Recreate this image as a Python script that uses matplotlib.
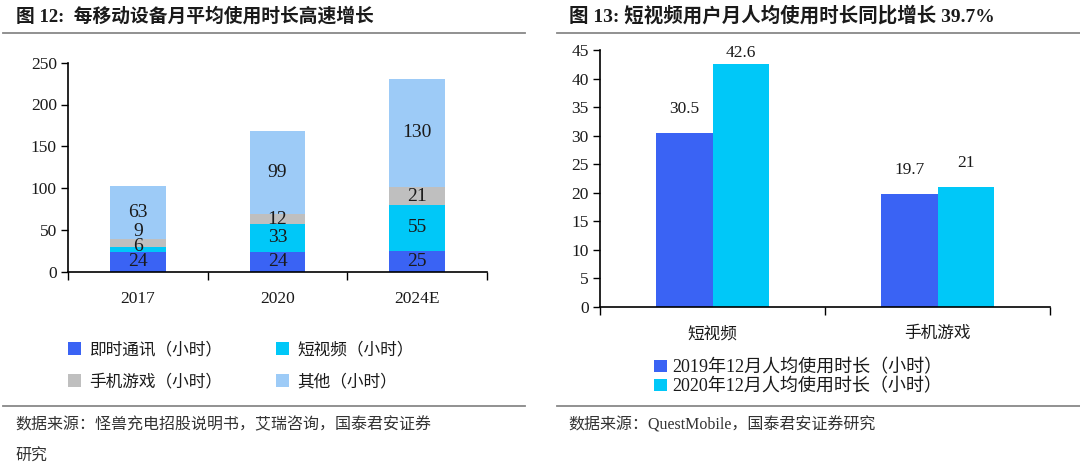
import numpy as np
import matplotlib
matplotlib.use("Agg")
import matplotlib.pyplot as plt
from matplotlib.lines import Line2D

plt.rcParams['font.family'] = ['Liberation Serif', 'Noto Sans CJK SC', 'DejaVu Sans']

# left chart data
years = ["2017", "2020", "2024E"]
im_hours = [24, 24, 25]
video_hours = [6, 33, 55]
game_hours = [9, 12, 21]
other_hours = [63, 99, 130]
left_series = ["即时通讯（小时）", "短视频（小时）", "手机游戏（小时）", "其他（小时）"]

# right chart data
apps = ["短视频", "手机游戏"]
dec2019 = [30.5, 19.7]
dec2020 = [42.6, 21]
right_series = ["2019年12月人均使用时长（小时）", "2020年12月人均使用时长（小时）"]

c_blue = "#3A63F4"
c_cyan = "#00C8F8"
c_gray = "#BFBFBF"
c_light = "#9DCBF7"
txt = "#1a1a1a"

W, H = 1080, 476
fig = plt.figure(figsize=(W / 100, H / 100), dpi=100)


def box(x0, y0, x1, y1):
    # pixel box -> figure fraction
    return [x0 / W, 1 - y1 / H, (x1 - x0) / W, (y1 - y0) / H]


def style_axes(ax, n):
    ax.spines['top'].set_visible(False)
    ax.spines['right'].set_visible(False)
    ax.set_xlim(-0.5, n - 0.5)
    ax.set_xticks(np.arange(n + 1) - 0.5)
    ax.set_xticklabels([])
    ax.tick_params(axis='x', which='major', direction='out', length=6, width=1)
    ax.tick_params(axis='y', direction='out', length=5, width=1, labelsize=12.5,
                   labelcolor=txt, pad=3)
    for s in ['left', 'bottom']:
        ax.spines[s].set_linewidth(1.2)


# ---- left: stacked bars
axl = fig.add_axes(box(68, 62.7, 487, 271.7))
x = np.arange(len(years))
stacks = [im_hours, video_hours, game_hours, other_hours]
colors = [c_blue, c_cyan, c_gray, c_light]
bottom = np.zeros(len(years))
bars_l = []
label_y = [[] for _ in years]
for vals, col in zip(stacks, colors):
    vals = np.array(vals, dtype=float)
    b = axl.bar(x, vals, 0.4, bottom=bottom, color=col, zorder=2)
    bars_l.append(b)
    for i in range(len(years)):
        yc = bottom[i] + vals[i] / 2
        if label_y[i]:
            yc = max(yc, label_y[i][-1] + 18)
        label_y[i].append(yc)
        axl.text(x[i], yc, f"{vals[i]:g}", ha='center', va='center',
                 fontsize=14, color=txt, zorder=3)
    bottom += vals
axl.set_ylim(0, 250)
axl.set_yticks(np.arange(0, 251, 50))
style_axes(axl, len(years))
axl.set_xticks(x, minor=True)
axl.set_xticklabels(years, minor=True)
axl.tick_params(axis='x', which='minor', length=0, labelsize=12.5, labelcolor=txt, pad=14)

# legend fills column-wise, so reorder to read row by row
order = [0, 2, 1, 3]
fig.legend([bars_l[k] for k in order], [left_series[k] for k in order],
           loc='upper left', bbox_to_anchor=(53 / W, 1 - 327 / H),
           ncol=2, frameon=False, fontsize=12, handlelength=0.8, handleheight=0.8,
           handletextpad=0.5, columnspacing=3.2, labelspacing=0.95,
           labelcolor=txt)

# ---- right: grouped bars
axr = fig.add_axes(box(600, 50, 1050, 306.7))
xr = np.arange(len(apps))
w = 0.25
b1 = axr.bar(xr - w / 2, dec2019, w, color=c_blue, zorder=2)
b2 = axr.bar(xr + w / 2, dec2020, w, color=c_cyan, zorder=2)
for bars, vals in [(b1, dec2019), (b2, dec2020)]:
    for rect, v in zip(bars, vals):
        axr.text(rect.get_x() + rect.get_width() / 2, min(v + 4.2, 44.4), f"{v:g}",
                 ha='center', va='center', fontsize=12.5, color=txt)
axr.set_ylim(0, 45)
axr.set_yticks(np.arange(0, 46, 5))
style_axes(axr, len(apps))
axr.set_xticks(xr, minor=True)
axr.set_xticklabels(apps, minor=True)
axr.tick_params(axis='x', which='minor', length=0, labelsize=12, labelcolor=txt, pad=14)

fig.legend([b1, b2], right_series, loc='upper left', bbox_to_anchor=(638 / W, 1 - 343 / H),
           ncol=1, frameon=False, fontsize=13, handlelength=0.7, handleheight=0.7,
           handletextpad=0.3, labelspacing=0.1, labelcolor=txt)

# ---- titles, rules, sources
fig.text(16 / W, 1 - 16 / H, "图 12:  每移动设备月平均使用时长高速增长", fontsize=13.5,
         fontweight='bold', va='center', ha='left', color=txt)
fig.text(569 / W, 1 - 16 / H, "图 13: 短视频用户月人均使用时长同比增长 39.7%", fontsize=14,
         fontweight='bold', va='center', ha='left', color=txt)

for (xa, xb) in [(3, 525), (557, 1080)]:
    for yy in (33, 406):
        fig.add_artist(Line2D([xa / W, xb / W], [1 - yy / H, 1 - yy / H],
                              color="#888888", lw=1.3))

fig.text(15 / W, 1 - 425 / H, "数据来源：怪兽充电招股说明书，艾瑞咨询，国泰君安证券",
         fontsize=11.5, va='center', ha='left', color="#333333")
fig.text(15 / W, 1 - 457 / H, "研究", fontsize=11.5, va='center', ha='left', color="#333333")
fig.text(568 / W, 1 - 425 / H, "数据来源：QuestMobile，国泰君安证券研究",
         fontsize=11.5, va='center', ha='left', color="#333333")

fig.savefig("out.png", dpi=100)
